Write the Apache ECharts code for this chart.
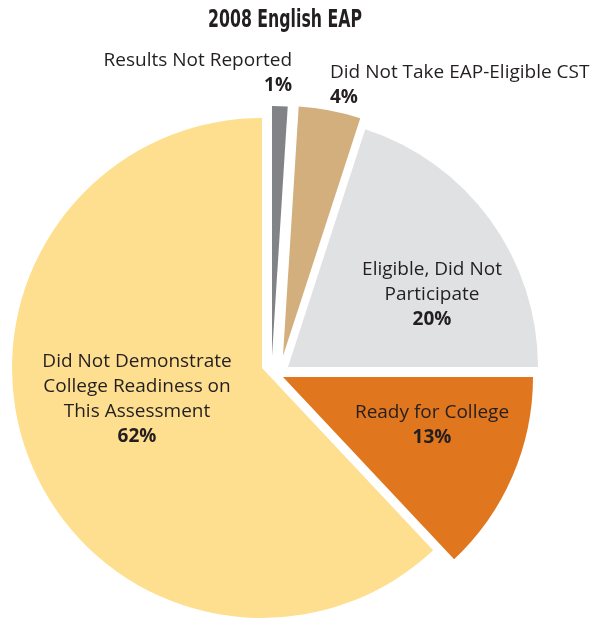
<!DOCTYPE html>
<html>
<head>
<meta charset="utf-8">
<script src="https://cdn.jsdelivr.net/npm/echarts@6/dist/echarts.min.js"></script>
<style>html,body{margin:0;padding:0;background:#fff;}#c{width:599px;height:618px;}</style>
</head>
<body>
<div id="c"></div>
<script>
const titleText = '2008 English EAP';
const categories = [
  'Results Not Reported',
  'Did Not Take EAP-Eligible CST',
  'Eligible, Did Not\nParticipate',
  'Ready for College',
  'Did Not Demonstrate\nCollege Readiness on\nThis Assessment'
];
const values = [1, 4, 20, 13, 62];
const colors = ['#818386', '#D2AF7D', '#E0E1E3', '#E0761E', '#FEDF90'];

// per-slice layout (exploded pieces)
const centers = [[272, 356], [283, 356], [288, 367], [283, 377], [262, 368]];
const labelPos = [
  {x: 292, y: 73, align: 'right'},
  {x: 330, y: 85, align: 'left'},
  {x: 432, y: 295, align: 'center'},
  {x: 432, y: 425, align: 'center'},
  {x: 137, y: 399, align: 'center'}
];

const FONT = '"Open Sans", "Noto Sans", sans-serif';

const series = categories.map((_, i) => ({
  type: 'pie',
  center: centers[i],
  radius: 250,
  startAngle: 90,
  clockwise: true,
  avoidLabelOverlap: false,
  silent: true,
  animation: false,
  labelLine: {show: false},
  labelLayout: {
    x: labelPos[i].x, y: labelPos[i].y,
    align: labelPos[i].align, verticalAlign: 'middle', hideOverlap: false
  },
  data: categories.map((name, j) => ({
    name: name,
    value: values[j],
    itemStyle: {color: j === i ? colors[j] : 'rgba(0,0,0,0)'},
    label: j === i ? {
      show: true,
      position: 'inside',
      formatter: '{n|{b}}\n{p|{c}%}',
      align: labelPos[i].align,
      rich: {
        n: {fontFamily: FONT, fontSize: 19, color: '#231F20', lineHeight: 25, align: labelPos[i].align},
        p: {fontFamily: FONT, fontSize: 19, fontWeight: 'bold', color: '#231F20', lineHeight: 25, align: labelPos[i].align}
      }
    } : {show: false}
  }))
}));

const chart = echarts.init(document.getElementById('c'), null, {renderer: 'canvas'});
chart.setOption({
  backgroundColor: '#fff',
  graphic: [{
    type: 'text',
    x: 285,
    y: 20,
    scaleX: 0.7,
    silent: true,
    style: {
      text: titleText,
      font: 'bold 25px "DejaVu Sans Condensed", "DejaVu Sans", sans-serif',
      fill: '#231F20',
      align: 'center',
      verticalAlign: 'middle'
    }
  }],
  series: series
});
</script>
</body>
</html>
